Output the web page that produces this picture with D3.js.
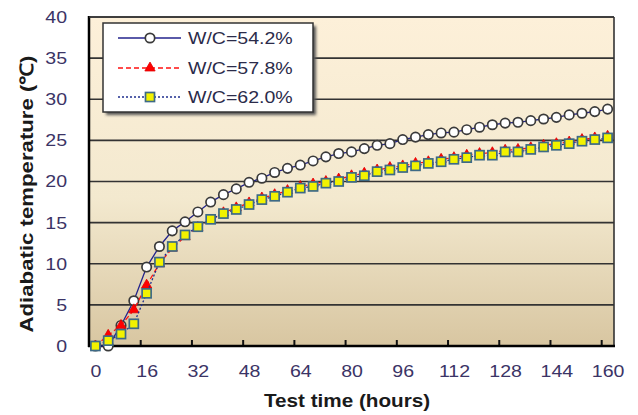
<!DOCTYPE html>
<html><head><meta charset="utf-8">
<script src="https://cdn.jsdelivr.net/npm/d3@7/dist/d3.min.js"></script>
<style>html,body{margin:0;padding:0;background:#fff;}svg{display:block;}</style>
</head><body>
<script>
const hours = [0,4,8,12,16,20,24,28,32,36,40,44,48,52,56,60,64,68,72,76,80,84,88,92,96,100,104,108,112,116,120,124,128,132,136,140,144,148,152,156,160];
const wc542 = [0,0,2.5,5.5,9.6,12.1,14.0,15.1,16.3,17.5,18.4,19.1,19.9,20.4,21.1,21.6,22.0,22.5,23.0,23.4,23.6,24.0,24.4,24.6,25.1,25.4,25.7,25.9,26.0,26.3,26.6,26.9,27.1,27.2,27.4,27.6,27.8,28.1,28.3,28.5,28.8];
const wc578 = [0,1.3,2.5,4.4,7.4,10.0,11.9,13.3,14.4,15.3,16.2,16.8,17.4,18.0,18.4,18.9,19.4,19.7,20.0,20.3,20.7,21.0,21.4,21.7,21.9,22.2,22.4,22.7,22.9,23.2,23.4,23.5,23.8,23.9,24.1,24.4,24.6,24.8,25.1,25.3,25.5];
const wc620 = [0,0.65,1.45,2.7,6.4,10.2,12.1,13.5,14.5,15.4,16.1,16.6,17.2,17.8,18.2,18.7,19.2,19.4,19.8,20.0,20.5,20.7,21.2,21.4,21.7,21.9,22.2,22.4,22.7,22.9,23.2,23.2,23.6,23.6,23.9,24.2,24.4,24.6,24.9,25.1,25.3];
const seriesNames = ["W/C=54.2%","W/C=57.8%","W/C=62.0%"];
const xTickLabels = [0,16,32,48,64,80,96,112,128,144,160];
const yTickLabels = [0,5,10,15,20,25,30,35,40];
const xTitle = "Test time (hours)";
const yTitle = "Adiabatic temperature (\u2103)";

const W = 638, H = 415;
const L = 89, R = 614, T = 17, B = 346;
const SX = 1.15;
const svg = d3.select("body").append("svg").attr("width", W).attr("height", H)
  .style("font-family", "'Liberation Sans', Arial, sans-serif");

const defs = svg.append("defs");
const grad = defs.append("linearGradient").attr("id","bg").attr("x1",0).attr("y1",0).attr("x2",0).attr("y2",1);
grad.append("stop").attr("offset","0%").attr("stop-color","#fdf0d9");
grad.append("stop").attr("offset","55%").attr("stop-color","#f3e9cf");
grad.append("stop").attr("offset","100%").attr("stop-color","#d8c6a1");
const blur = defs.append("filter").attr("id","sh").attr("x","-10%").attr("y","-10%").attr("width","130%").attr("height","130%");
blur.append("feGaussianBlur").attr("stdDeviation",1.5);

const x = d3.scaleLinear().domain([-2, 162]).range([L, R]);
const y = d3.scaleLinear().domain([0, 40]).range([B, T]);

svg.append("rect").attr("x",L).attr("y",T).attr("width",R-L).attr("height",B-T).attr("fill","url(#bg)");

// gridlines
svg.append("g").selectAll("line").data(yTickLabels.filter(v=>v>0)).join("line")
  .attr("x1",L).attr("x2",R).attr("y1",d=>y(d)).attr("y2",d=>y(d))
  .attr("stroke","#333").attr("stroke-width",1.6);
// right border
svg.append("line").attr("x1",R).attr("x2",R).attr("y1",T).attr("y2",B).attr("stroke","#333").attr("stroke-width",1.6);

// x axis labels
const xAx = svg.append("g").attr("transform",`translate(0,${B})`)
  .call(d3.axisBottom(x).tickValues(xTickLabels).tickSize(0).tickPadding(19));
xAx.select(".domain").remove();
xAx.selectAll("text").attr("font-size",17).attr("fill","#3b3466")
  .attr("transform",`scale(${SX},1)`).attr("x",0)
  .each(function(){ const g = d3.select(this.parentNode); const t = g.attr("transform"); const m = /translate\(([-\d.]+)/.exec(t); const tx=+m[1]; g.attr("transform",`translate(${tx},0)`); });
// tick marks at category boundaries
const bounds = xTickLabels.map(v=>v-2).filter(v=>v>0);
const xTk = svg.append("g").attr("transform",`translate(0,${B})`)
  .call(d3.axisBottom(x).tickValues(bounds).tickSize(-6).tickFormat(""));
xTk.select(".domain").remove();
xTk.selectAll("line").attr("stroke","#111").attr("stroke-width",2);

// y axis labels
const yAx = svg.append("g").attr("transform",`translate(${L},0)`)
  .call(d3.axisLeft(y).tickValues(yTickLabels).tickSize(0).tickPadding(0));
yAx.select(".domain").remove();
yAx.selectAll("text").attr("font-size",17).attr("fill","#3b3466")
  .attr("x",-22/SX).attr("transform",`scale(${SX},1)`);

// axis lines
svg.append("line").attr("x1",L).attr("x2",L).attr("y1",T-1).attr("y2",B+1).attr("stroke","#000").attr("stroke-width",2.5);
svg.append("line").attr("x1",L-1).attr("x2",R+1).attr("y1",B).attr("y2",B).attr("stroke","#000").attr("stroke-width",2.5);
svg.append("line").attr("x1",L).attr("x2",R).attr("y1",T).attr("y2",T).attr("stroke","#333").attr("stroke-width",1.6);

// series
const series = [
  {name:seriesNames[0], vals:wc542, color:"#23238c", dash:null, marker:"circle"},
  {name:seriesNames[1], vals:wc578, color:"#ff1010", dash:"5,3", marker:"triangle"},
  {name:seriesNames[2], vals:wc620, color:"#1f2f8f", dash:"2,2", marker:"square"}
];
const line = d3.line().x((d,i)=>x(hours[i])).y(d=>y(d));

function drawMarker(g, type, cx, cy){
  if(type==="circle"){
    g.append("circle").attr("cx",cx).attr("cy",cy).attr("r",4.7)
      .attr("fill","#fff").attr("stroke","#3a3a3a").attr("stroke-width",1.7);
  } else if(type==="triangle"){
    g.append("path").attr("d",d3.symbol().type(d3.symbolTriangle).size(46)())
      .attr("transform",`translate(${cx},${cy})`).attr("fill","#ff0000").attr("stroke","#e00000").attr("stroke-width",0.8);
  } else {
    g.append("rect").attr("x",cx-4.5).attr("y",cy-4.5).attr("width",9).attr("height",9)
      .attr("fill","#f2f200").attr("stroke","#3d6a86").attr("stroke-width",1.7);
  }
}

series.forEach(s=>{
  const g = svg.append("g");
  g.append("path").datum(s.vals).attr("d",line).attr("fill","none")
    .attr("stroke",s.color).attr("stroke-width",1.3).attr("stroke-dasharray",s.dash);
  s.vals.forEach((v,i)=>drawMarker(g, s.marker, x(hours[i]), y(v)));
});

// legend
const lg = svg.append("g");
lg.append("rect").attr("x",106).attr("y",26).attr("width",210).attr("height",89).attr("fill","#555").attr("filter","url(#sh)");
lg.append("rect").attr("x",103).attr("y",23).attr("width",210).attr("height",89).attr("fill","#fff").attr("stroke","#333").attr("stroke-width",1.5);
const ly = [38, 68, 97];
series.forEach((s,i)=>{
  lg.append("line").attr("x1",118).attr("x2",181).attr("y1",ly[i]).attr("y2",ly[i])
    .attr("stroke",s.color).attr("stroke-width",1.3).attr("stroke-dasharray",s.dash);
  drawMarker(lg, s.marker, 150, ly[i]);
  lg.append("text").attr("transform",`translate(188,${ly[i]+6}) scale(${SX},1)`)
    .attr("font-size",17).attr("fill","#2b2b4a").text(s.name);
});

// titles
svg.append("text").attr("transform",`translate(347,407) scale(${SX},1)`)
  .attr("text-anchor","middle").attr("font-weight","bold").attr("font-size",18).attr("fill","#1a1a1a").text(xTitle);
svg.append("text").attr("transform",`translate(33,194) rotate(-90) scale(1.2,1)`)
  .attr("text-anchor","middle").attr("font-weight","bold").attr("font-size",18.5).attr("fill","#1a1a1a").text(yTitle);
</script>
</body></html>
